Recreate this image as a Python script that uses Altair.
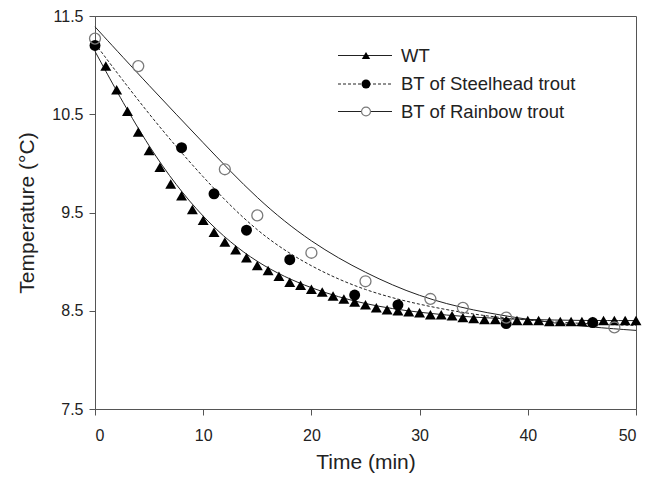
import altair as alt
import pandas as pd

# WT (water temperature) measured every minute
wt_time = list(range(1, 51))
wt_temp = [10.99, 10.75, 10.53, 10.32, 10.13, 9.96, 9.79, 9.67, 9.53, 9.42,
           9.30, 9.20, 9.12, 9.04, 8.96, 8.91, 8.85, 8.79, 8.76, 8.72,
           8.69, 8.65, 8.62, 8.59, 8.56, 8.53, 8.51, 8.50, 8.49, 8.48,
           8.46, 8.46, 8.45, 8.43, 8.42, 8.41, 8.41, 8.40, 8.40, 8.40,
           8.40, 8.39, 8.39, 8.39, 8.39, 8.39, 8.40, 8.40, 8.40, 8.40]

# BT of Steelhead trout
sh_time = [0, 8, 11, 14, 18, 24, 28, 38, 46]
sh_temp = [11.20, 10.16, 9.69, 9.32, 9.02, 8.66, 8.56, 8.37, 8.38]

# BT of Rainbow trout
rb_time = [0, 4, 12, 15, 20, 25, 31, 34, 38, 48]
rb_temp = [11.27, 10.99, 9.94, 9.47, 9.09, 8.80, 8.62, 8.53, 8.43, 8.33]

# fitted curves
fit_time = [0, 5, 10, 15, 20, 25, 30, 35, 40, 45, 50]
wt_fit = [11.14, 10.13, 9.42, 8.97, 8.72, 8.56, 8.48, 8.43, 8.41, 8.40, 8.40]
sh_fit = [11.22, 10.49, 9.85, 9.29, 8.94, 8.70, 8.56, 8.46, 8.40, 8.37, 8.35]
rb_fit = [11.39, 10.79, 10.21, 9.63, 9.19, 8.88, 8.64, 8.50, 8.41, 8.34, 8.30]

x_ticks = [0, 10, 20, 30, 40, 50]
y_ticks = [7.5, 8.5, 9.5, 10.5, 11.5]
legend_labels = ["WT", "BT of Steelhead trout", "BT of Rainbow trout"]

FONT = "Liberation Sans"

xs = alt.Scale(domain=[0, 50], nice=False)
ys = alt.Scale(domain=[7.5, 11.5], nice=False, zero=False)

X = alt.X("t:Q", scale=xs, axis=alt.Axis(values=x_ticks, title="Time (min)", format="d"))
Y = alt.Y("v:Q", scale=ys, axis=alt.Axis(values=y_ticks, title="Temperature (°C)", format=".1f"))

wt_df = pd.DataFrame({"t": wt_time, "v": wt_temp})
sh_df = pd.DataFrame({"t": sh_time, "v": sh_temp})
rb_df = pd.DataFrame({"t": rb_time, "v": rb_temp})
wtf_df = pd.DataFrame({"t": fit_time, "v": wt_fit})
shf_df = pd.DataFrame({"t": fit_time, "v": sh_fit})
rbf_df = pd.DataFrame({"t": fit_time, "v": rb_fit})

line_wt = alt.Chart(wtf_df).mark_line(color="#222", strokeWidth=1, interpolate="basis").encode(x=X, y=Y)
line_sh = alt.Chart(shf_df).mark_line(color="#222", strokeWidth=1, strokeDash=[3, 2], interpolate="basis").encode(x=X, y=Y)
line_rb = alt.Chart(rbf_df).mark_line(color="#222", strokeWidth=1, interpolate="basis").encode(x=X, y=Y)

pts_wt = alt.Chart(wt_df).mark_point(shape="triangle-up", filled=True, color="#000", size=120, opacity=1).encode(x=X, y=Y)
pts_sh = alt.Chart(sh_df).mark_point(shape="circle", filled=True, color="#000", size=120, opacity=1).encode(x=X, y=Y)
pts_rb = alt.Chart(rb_df).mark_point(shape="circle", filled=False, color="#7a7a7a", strokeWidth=1.3, size=120, opacity=1).encode(x=X, y=Y)

one = pd.DataFrame({"a": [0]})
leg_y = [39.5, 68, 95.5]
leg_layers = []
dashes = [None, [3, 2], None]
for i, lab in enumerate(legend_labels):
    kw = {"color": "#222", "strokeWidth": 1}
    if dashes[i]:
        kw["strokeDash"] = dashes[i]
    leg_layers.append(alt.Chart(one).mark_rule(**kw).encode(
        x=alt.value(243), x2=alt.value(297), y=alt.value(leg_y[i])))
    if i == 0:
        m = alt.Chart(one).mark_point(shape="triangle-up", filled=True, color="#000", size=70, opacity=1)
    elif i == 1:
        m = alt.Chart(one).mark_point(shape="circle", filled=True, color="#000", size=80, opacity=1)
    else:
        m = alt.Chart(one).mark_point(shape="circle", filled=False, color="#7a7a7a", fill="white", strokeWidth=1.2, size=80, opacity=1)
    leg_layers.append(m.encode(x=alt.value(271), y=alt.value(leg_y[i])))
    leg_layers.append(alt.Chart(one).mark_text(
        text=lab, align="left", baseline="middle", font=FONT, fontSize=18.5, color="#222"
    ).encode(x=alt.value(306), y=alt.value(leg_y[i])))

chart = alt.layer(
    line_wt, line_sh, line_rb, pts_wt, pts_sh, pts_rb, *leg_layers
).properties(
    width=541, height=393,
    autosize=alt.AutoSizeParams(type="none"),
    padding={"left": 87, "top": 8, "right": 15, "bottom": 66},
).configure_view(
    stroke="#555", strokeWidth=1
).configure_axis(
    grid=False, domainColor="#555", tickColor="#555", tickSize=6,
    labelFont=FONT, labelFontSize=16, labelColor="#222",
    titleFont=FONT, titleFontSize=21, titleFontWeight="normal", titleColor="#222",
).configure_axisX(labelPadding=12, titlePadding=8).configure_axisY(labelPadding=6, titlePadding=14)

chart.save("out.html", embed_options={"renderer": "svg", "actions": False})
